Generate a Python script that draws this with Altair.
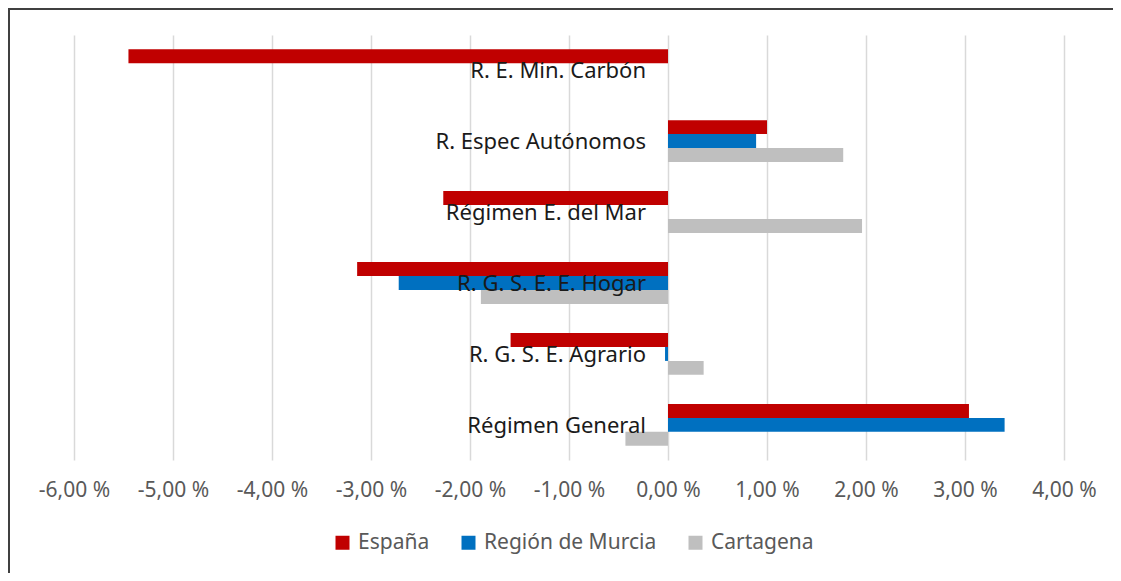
import altair as alt
import pandas as pd

categories = ["R. E. Min. Carbón", "R. Espec Autónomos", "Régimen E. del Mar",
              "R. G. S. E. E. Hogar", "R. G. S. E. Agrario", "Régimen General"]
series = ["España", "Región de Murcia", "Cartagena"]
espana = [-5.45, 1.00, -2.27, -3.14, -1.59, 3.04]
murcia = [0.0, 0.89, 0.0, -2.72, -0.03, 3.40]
cartagena = [0.0, 1.77, 1.96, -1.89, 0.36, -0.43]
colors = ["#C00000", "#0070C0", "#BFBFBF"]
tick_values = [-6, -5, -4, -3, -2, -1, 0, 1, 2, 3, 4]

rows = []
for s, vals in zip(series, [espana, murcia, cartagena]):
    for c, v in zip(categories, vals):
        rows.append({"cat": c, "serie": s, "value": v})
df = pd.DataFrame(rows)
cat_df = pd.DataFrame({"cat": categories, "value": [0.0] * len(categories)})

label_expr = ("(datum.value < 0 ? '-' : '') + replace(format(abs(datum.value), '.2f'), '.', ',') + ' %'")

x_scale = alt.Scale(domain=[-6, 4], nice=False, zero=False)
y_scale = alt.Scale(domain=categories, paddingInner=0.41, paddingOuter=0.2)

x_enc = alt.X("value:Q", scale=x_scale,
              axis=alt.Axis(values=tick_values, labelExpr=label_expr, title=None,
                            domain=False, ticks=False, labelPadding=19,
                            labelFontSize=21, labelColor="#595959",
                            labelFont="Noto Sans", labelFlush=False, labelOverlap=False,
                            grid=True, gridColor="#D9D9D9", gridWidth=1.5))
y_enc = alt.Y("cat:N", sort=categories, scale=y_scale, axis=None)

bars = alt.Chart(df).mark_bar().encode(
    x=x_enc,
    y=y_enc,
    yOffset=alt.YOffset("serie:N", sort=series,
                        scale=alt.Scale(domain=series, paddingInner=0, paddingOuter=0)),
    color=alt.Color("serie:N", sort=series,
                    scale=alt.Scale(domain=series, range=colors),
                    legend=alt.Legend(title=None, orient="none", direction="horizontal",
                                      legendX=258, legendY=497,
                                      symbolType="square", symbolSize=196,
                                      symbolStrokeWidth=0, labelLimit=400,
                                      labelFontSize=21, labelColor="#595959",
                                      labelFont="Noto Sans",
                                      labelOffset=5, columnPadding=28)),
)

labels = alt.Chart(cat_df).mark_text(align="right", baseline="middle", dx=-22, dy=1,
                                     fontSize=22, font="Noto Sans", color="#1a1a1a").encode(
    x=alt.X("value:Q", scale=x_scale),
    y=alt.Y("cat:N", sort=categories, scale=y_scale, axis=None),
    text="cat:N",
)

frame_left = alt.Chart(cat_df).mark_rule(color="#404040", strokeWidth=2).encode(
    x=alt.value(-65), y=alt.value(-27), y2=alt.value(560))
frame_top = alt.Chart(cat_df).mark_rule(color="#404040", strokeWidth=2).encode(
    x=alt.value(-66), x2=alt.value(1060), y=alt.value(-26))

chart = alt.layer(bars, labels, frame_left, frame_top).properties(
    width=990, height=425,
    autosize=alt.AutoSizeParams(type="none"),
    padding={"left": 66, "top": 27, "right": 49, "bottom": 113},
).configure_view(stroke=None)

chart.save("out.html", embed_options={"renderer": "svg", "actions": False})
